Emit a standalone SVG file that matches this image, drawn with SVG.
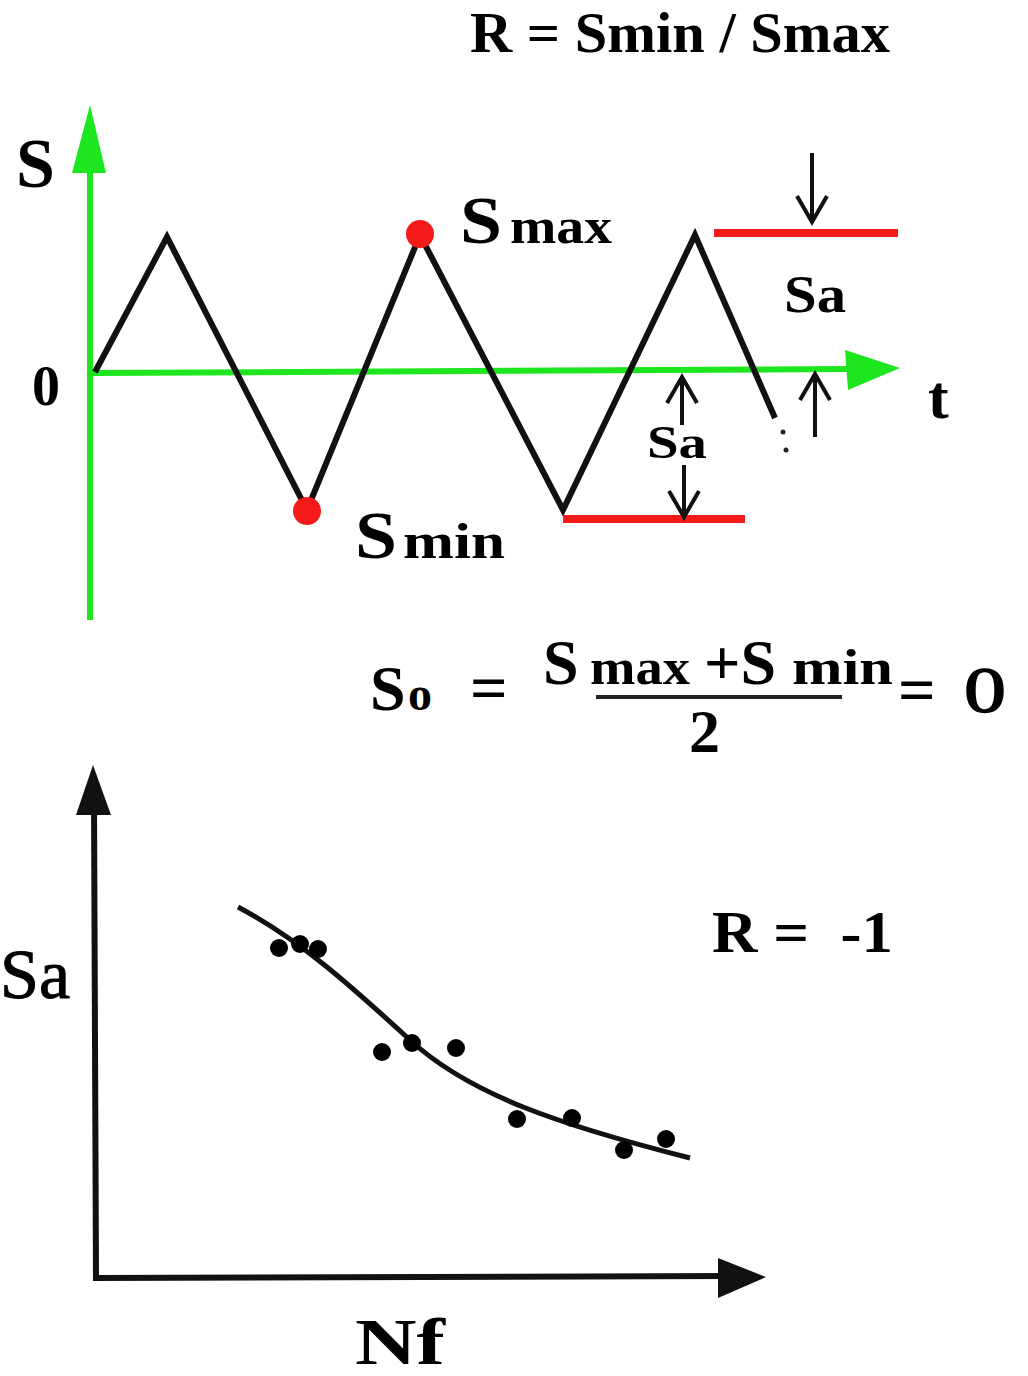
<svg xmlns="http://www.w3.org/2000/svg" width="1028" height="1376" viewBox="0 0 1028 1376">
<style>
.t{font-family:"Liberation Serif","Times New Roman",serif;fill:#000}
.b{font-weight:bold}
.g{stroke:#1ee61e;stroke-width:6;fill:none}
.k{stroke:#111;stroke-width:6;fill:none;stroke-linejoin:miter}
.r{stroke:#f41a1a;stroke-width:8;fill:none}
.ar{stroke:#111;stroke-width:4;fill:none}
.dot{fill:#000}
</style>
<rect width="1028" height="1376" fill="#fff"/>
<g id="title"><text class="t b" x="470" y="52" font-size="58" textLength="420" lengthAdjust="spacingAndGlyphs">R = Smin / Smax</text></g>

<g id="axes-top">
<line class="g" x1="90" y1="170" x2="90" y2="620"/>
<polygon points="90,105 72,173 106,173" fill="#1ee61e"/>
<line class="g" x1="93" y1="373" x2="850" y2="369"/>
<polygon points="900,368 845,350 848,390" fill="#1ee61e"/>
</g>
<g id="labels-top">
<text class="t b" x="16" y="187" font-size="70">S</text>
<text class="t b" x="32" y="405" font-size="56">0</text>
<text class="t b" x="928" y="418" font-size="62">t</text>
</g>
<g id="waveform">
<polyline class="k" points="95,372 167,237 307,510 420,235 563,510 695,235 775,418"/>
<circle cx="783" cy="432" r="2.5" fill="#222"/>
<circle cx="786" cy="450" r="2.5" fill="#222"/>
<circle cx="420" cy="234" r="14" fill="#f41a1a"/>
<circle cx="307" cy="511" r="14" fill="#f41a1a"/>
</g>
<g id="smax">
<text class="t b" x="460" y="243" font-size="68" textLength="42" lengthAdjust="spacingAndGlyphs">S</text>
<text class="t b" x="510" y="243" font-size="50" textLength="102" lengthAdjust="spacingAndGlyphs">max</text>
</g>
<g id="smin">
<text class="t b" x="355" y="558" font-size="68" textLength="42" lengthAdjust="spacingAndGlyphs">S</text>
<text class="t b" x="403" y="558" font-size="50" textLength="102" lengthAdjust="spacingAndGlyphs">min</text>
</g>
<g id="amplitude">
<line class="r" x1="714" y1="233" x2="898" y2="233"/>
<line class="r" x1="563" y1="519" x2="745" y2="519"/>
<text class="t b" x="784" y="312" font-size="52" textLength="62" lengthAdjust="spacingAndGlyphs">Sa</text>
<text class="t b" x="647" y="458" font-size="46" textLength="60" lengthAdjust="spacingAndGlyphs">Sa</text>
</g>
<g id="connectors">
<line class="ar" x1="812" y1="153" x2="812" y2="222"/>
<polyline class="ar" points="797,196 812,222 827,196"/>
<line class="ar" x1="682" y1="425" x2="682" y2="377"/>
<polyline class="ar" points="667,403 682,377 697,403"/>
<line class="ar" x1="684" y1="465" x2="684" y2="517"/>
<polyline class="ar" points="669,491 684,517 699,491"/>
<line class="ar" x1="815" y1="437" x2="815" y2="374"/>
<polyline class="ar" points="800,400 815,374 830,400"/>
</g>
<g id="formula">
<text class="t b" x="370" y="710" font-size="64">S</text>
<text class="t b" x="408" y="710" font-size="48">o</text>
<text class="t b" x="470" y="710" font-size="66">=</text>
<text class="t b" x="543" y="684" font-size="64">S</text>
<text class="t b" x="590" y="684" font-size="50" textLength="100" lengthAdjust="spacingAndGlyphs">max</text>
<text class="t b" x="704" y="684" font-size="64">+S</text>
<text class="t b" x="792" y="684" font-size="50" textLength="101" lengthAdjust="spacingAndGlyphs">min</text>
<line x1="596" y1="697" x2="842" y2="697" stroke="#222" stroke-width="4"/>
<text class="t b" x="689" y="752" font-size="62">2</text>
<text class="t b" x="898" y="712" font-size="66">=</text>
<text class="t" x="964" y="712" font-size="66" textLength="42" lengthAdjust="spacingAndGlyphs" stroke="#000" stroke-width="1.5">0</text>
</g>

<g id="axes-bottom">
<line stroke="#111" stroke-width="6" x1="94" y1="800" x2="96" y2="1280"/>
<polygon points="93,765 76,815 111,815" fill="#111"/>
<line stroke="#111" stroke-width="6" x1="93" y1="1278" x2="730" y2="1276"/>
<polygon points="766,1277 718,1258 718,1298" fill="#111"/>
</g>
<g id="sn-curve">
<path d="M238,907 C300,940 350,985 410,1040 S560,1125 690,1158" stroke="#111" stroke-width="5" fill="none"/>
<circle class="dot" cx="279" cy="948" r="9"/>
<circle class="dot" cx="300" cy="944" r="9"/>
<circle class="dot" cx="318" cy="949" r="9"/>
<circle class="dot" cx="382" cy="1052" r="9"/>
<circle class="dot" cx="412" cy="1043" r="9"/>
<circle class="dot" cx="456" cy="1048" r="9"/>
<circle class="dot" cx="517" cy="1119" r="9"/>
<circle class="dot" cx="572" cy="1118" r="9"/>
<circle class="dot" cx="624" cy="1150" r="9"/>
<circle class="dot" cx="666" cy="1139" r="9"/>
</g>
<g id="labels-bottom">
<text class="t" x="0" y="998" font-size="70" textLength="70" lengthAdjust="spacingAndGlyphs" stroke="#000" stroke-width="1">Sa</text>
<text class="t b" x="355" y="1364" font-size="66" textLength="90" lengthAdjust="spacingAndGlyphs">Nf</text>
<text class="t b" x="712" y="952" font-size="60" textLength="181" lengthAdjust="spacingAndGlyphs" xml:space="preserve">R =  -1</text>
</g>
</svg>
